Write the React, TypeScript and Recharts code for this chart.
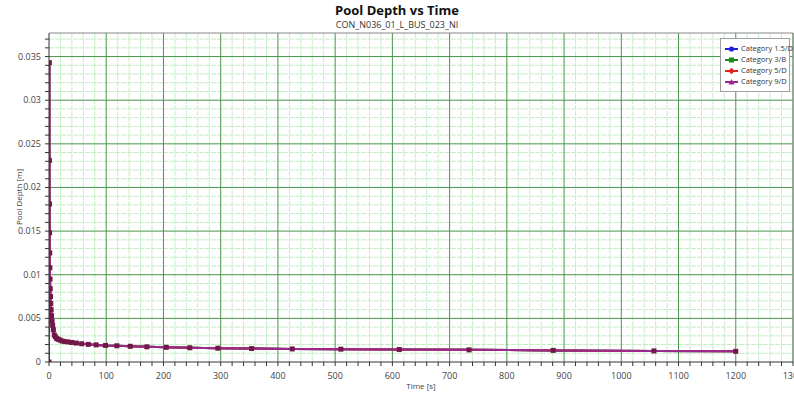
import React from 'react';
import {
  LineChart,
  Line,
  XAxis,
  YAxis,
  ReferenceLine,
} from 'recharts';

// time samples [s] and pool depth [m]
const TIMES = [
  0, 0.6, 0.72, 0.86, 1.04, 1.24, 1.49, 1.79, 2.15, 2.58, 3.09, 3.71, 4.46, 5.35,
  6.42, 7.7, 9.24, 11.1, 13.3, 16.0, 19.2, 23.0, 27.6, 33.1, 39.7, 47.7, 57.2,
  68.6, 82.4, 98.8, 118.6, 142, 171, 205, 246, 295, 354, 425, 510, 612, 734, 881,
  1057, 1200,
];

// all four categories give the same curve in the picture
const DEPTHS = [
  0, 0.0343, 0.0231, 0.0181, 0.0148, 0.0125, 0.0108, 0.0095, 0.0084, 0.0075,
  0.0067, 0.006, 0.0053, 0.0047, 0.0042, 0.0037, 0.0031, 0.0029, 0.0027, 0.0026,
  0.00252, 0.0024, 0.00235, 0.0023, 0.00224, 0.00217, 0.00209, 0.00202, 0.00196,
  0.0019, 0.00186, 0.0018, 0.00174, 0.00168, 0.00163, 0.00158, 0.00154, 0.0015,
  0.00147, 0.00143, 0.00139, 0.00133, 0.00127, 0.00122,
];

const CATEGORIES = [
  { key: 'c15d', name: 'Category 1.5/D', color: '#1f1fe0', shape: 'circle' },
  { key: 'c3b', name: 'Category 3/B', color: '#1a8a1a', shape: 'square' },
  { key: 'c5d', name: 'Category 5/D', color: '#e82020', shape: 'diamond' },
  { key: 'c9d', name: 'Category 9/D', color: '#9a2890', shape: 'triangle' },
];

const X_MAJOR = [0, 100, 200, 300, 400, 500, 600, 700, 800, 900, 1000, 1100, 1200, 1300];
const Y_MAJOR = [0, 0.005, 0.01, 0.015, 0.02, 0.025, 0.03, 0.035];
const X_MAX = 1300;
const Y_MAX = 0.0377;

// minor grid: 5 steps between majors
const X_MINOR: number[] = [];
X_MAJOR.forEach((v) => {
  for (let i = 1; i < 5; i++) if (v + i * 20 < X_MAX) X_MINOR.push(v + i * 20);
});
const Y_MINOR: number[] = [];
Y_MAJOR.forEach((v) => {
  for (let i = 1; i < 5; i++) {
    const m = +(v + i * 0.001).toFixed(4);
    if (m < Y_MAX) Y_MINOR.push(m);
  }
});
const X_TICKS = [...X_MAJOR, ...X_MINOR].sort((a, b) => a - b);
const Y_TICKS = [...Y_MAJOR, ...Y_MINOR].sort((a, b) => a - b);

const chartData = TIMES.map((t, i) => ({
  t,
  c15d: DEPTHS[i],
  c3b: DEPTHS[i],
  c5d: DEPTHS[i],
  c9d: DEPTHS[i],
}));

const FONT = '"Open Sans", "Segoe UI", "Noto Sans", sans-serif';
const MAJOR_GRID = '#4a964a';
const MINOR_GRID = '#c2eec2';

const isMajor = (v: number, list: number[]) => list.some((m) => Math.abs(m - v) < 1e-9);

const XTick = (props: any) => {
  const { x, y, payload } = props;
  if (!isMajor(payload.value, X_MAJOR)) return null;
  return (
    <text x={x} y={y + 11} textAnchor="middle" fontSize={9} fill="#444" fontFamily={FONT}>
      {payload.value}
    </text>
  );
};

const YTick = (props: any) => {
  const { x, y, payload } = props;
  if (!isMajor(payload.value, Y_MAJOR)) return null;
  return (
    <text x={x - 2} y={y + 3} textAnchor="end" fontSize={9} fill="#444" fontFamily={FONT}>
      {+payload.value.toFixed(3)}
    </text>
  );
};

const SquareDot = (props: any) => {
  const { cx, cy, index } = props;
  if (cx == null || cy == null) return <g key={index} />;
  return <rect key={index} x={cx - 2.5} y={cy - 2.5} width={5} height={5} fill="#701848" />;
};

const LegendMarker = ({ color, shape }: { color: string; shape: string }) => (
  <svg width={13} height={8} style={{ marginRight: 3, flex: 'none' }}>
    <line x1={0} y1={4} x2={13} y2={4} stroke={color} strokeWidth={2} />
    {shape === 'circle' && <circle cx={6.5} cy={4} r={2.6} fill={color} />}
    {shape === 'square' && <rect x={4} y={1.5} width={5} height={5} fill={color} />}
    {shape === 'diamond' && <path d="M6.5 0.8 L9.7 4 L6.5 7.2 L3.3 4 Z" fill={color} />}
    {shape === 'triangle' && <path d="M6.5 1 L9.5 6.5 L3.5 6.5 Z" fill={color} />}
  </svg>
);

export default function App() {
  return (
    <div
      style={{
        position: 'absolute',
        left: 0,
        top: 0,
        width: 794,
        height: 397,
        background: '#fff',
        overflow: 'hidden',
        fontFamily: FONT,
      }}
    >
      <LineChart
        width={794}
        height={397}
        data={chartData}
        margin={{ top: 33, right: 1, bottom: 0, left: 0 }}
        style={{ position: 'absolute', left: 0, top: 0 }}
      >
        {X_MINOR.map((v) => (
          <ReferenceLine key={`xm${v}`} x={v} stroke={MINOR_GRID} strokeDasharray="5 1" />
        ))}
        {Y_MINOR.map((v) => (
          <ReferenceLine key={`ym${v}`} y={v} stroke={MINOR_GRID} strokeDasharray="5 1" />
        ))}
        {X_MAJOR.filter((v) => v > 0).map((v) => (
          <ReferenceLine key={`xM${v}`} x={v} stroke={MAJOR_GRID} />
        ))}
        {Y_MAJOR.filter((v) => v > 0).map((v) => (
          <ReferenceLine key={`yM${v}`} y={v} stroke={MAJOR_GRID} />
        ))}
        <ReferenceLine y={Y_MAX} stroke="#888" />
        <ReferenceLine x={X_MAX} stroke="#888" />
        <XAxis
          dataKey="t"
          type="number"
          domain={[0, X_MAX]}
          ticks={X_TICKS}
          interval={0}
          height={35}
          tick={<XTick />}
          tickSize={4}
          stroke="#333"
          allowDataOverflow
        />
        <YAxis
          type="number"
          domain={[0, Y_MAX]}
          ticks={Y_TICKS}
          interval={0}
          width={49}
          tick={<YTick />}
          tickSize={4}
          stroke="#333"
          allowDataOverflow
        />
        {CATEGORIES.map((c, i) => (
          <Line
            key={c.key}
            type="linear"
            dataKey={c.key}
            name={c.name}
            stroke={c.color}
            strokeWidth={2}
            dot={i === CATEGORIES.length - 1 ? <SquareDot /> : false}
            activeDot={false}
            isAnimationActive={false}
          />
        ))}
      </LineChart>

      <div
        style={{
          position: 'absolute',
          top: 3,
          width: 794,
          textAlign: 'center',
          fontSize: 13,
          lineHeight: '15px',
          fontWeight: 700,
          color: '#111',
        }}
      >
        Pool Depth vs Time
      </div>
      <div
        style={{
          position: 'absolute',
          top: 19,
          width: 794,
          textAlign: 'center',
          fontSize: 9,
          lineHeight: '11px',
          color: '#333',
        }}
      >
        CON_N036_01_L_BUS_023_NI
      </div>
      <div
        style={{
          position: 'absolute',
          left: 421,
          top: 380,
          transform: 'translateX(-50%)',
          fontSize: 8,
          color: '#444',
          whiteSpace: 'nowrap',
        }}
      >
        Time [s]
      </div>
      <div
        style={{
          position: 'absolute',
          left: 18,
          top: 197,
          transform: 'translate(-50%, -50%) rotate(-90deg)',
          fontSize: 8,
          color: '#444',
          whiteSpace: 'nowrap',
        }}
      >
        Pool Depth [m]
      </div>

      <div
        style={{
          position: 'absolute',
          left: 720,
          top: 38,
          width: 70,
          boxSizing: 'border-box',
          background: '#fff',
          border: '1px solid #a0a0a0',
          padding: '4px 2px 4px 4px',
          fontSize: 7.5,
          color: '#333',
          lineHeight: '11px',
        }}
      >
        {CATEGORIES.map((c) => (
          <div key={c.key} style={{ display: 'flex', alignItems: 'center', whiteSpace: 'nowrap' }}>
            <LegendMarker color={c.color} shape={c.shape} />
            {c.name}
          </div>
        ))}
      </div>
    </div>
  );
}
